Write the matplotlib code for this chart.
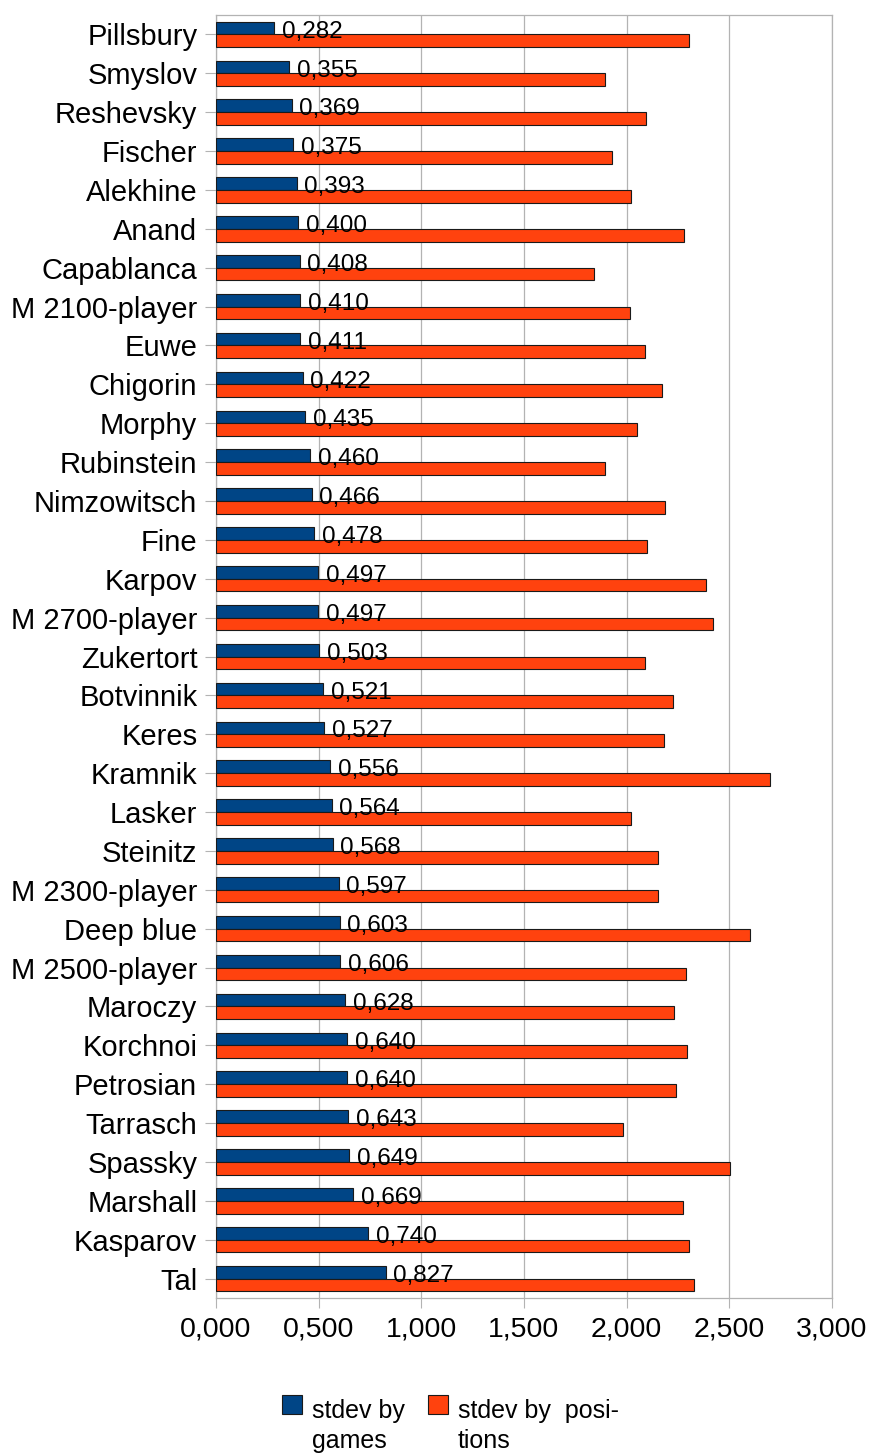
import matplotlib.pyplot as plt
import numpy as np
from matplotlib.patches import Rectangle

plt.rcParams['font.family'] = ['Liberation Sans', 'DejaVu Sans']

players = ['Pillsbury', 'Smyslov', 'Reshevsky', 'Fischer', 'Alekhine', 'Anand',
           'Capablanca', 'M 2100-player', 'Euwe', 'Chigorin', 'Morphy', 'Rubinstein',
           'Nimzowitsch', 'Fine', 'Karpov', 'M 2700-player', 'Zukertort', 'Botvinnik',
           'Keres', 'Kramnik', 'Lasker', 'Steinitz', 'M 2300-player', 'Deep blue',
           'M 2500-player', 'Maroczy', 'Korchnoi', 'Petrosian', 'Tarrasch', 'Spassky',
           'Marshall', 'Kasparov', 'Tal']

by_games = [0.282, 0.355, 0.369, 0.375, 0.393, 0.400, 0.408, 0.410, 0.411, 0.422,
            0.435, 0.460, 0.466, 0.478, 0.497, 0.497, 0.503, 0.521, 0.527, 0.556,
            0.564, 0.568, 0.597, 0.603, 0.606, 0.628, 0.640, 0.640, 0.643, 0.649,
            0.669, 0.740, 0.827]

by_positions = [2.304, 1.893, 2.096, 1.927, 2.021, 2.280, 1.843, 2.015, 2.088, 2.171,
                2.052, 1.893, 2.189, 2.101, 2.388, 2.422, 2.091, 2.228, 2.182, 2.697,
                2.020, 2.154, 2.153, 2.600, 2.291, 2.229, 2.296, 2.242, 1.982, 2.502,
                2.276, 2.302, 2.327]

xticks = [0, 0.5, 1.0, 1.5, 2.0, 2.5, 3.0]

blue = '#004586'
orange = '#ff420e'
grid = '#b3b3b3'

fig = plt.figure(figsize=(8.69, 14.55), dpi=100)
ax = fig.add_axes([216 / 869, 1 - 1298 / 1455, 616 / 869, 1283 / 1455])

y = np.arange(len(players))
h = 0.327
ax.barh(y - h / 2, by_games, height=h, color=blue, edgecolor='#1a1a1a', linewidth=0.8, zorder=3)
ax.barh(y + h / 2, by_positions, height=h, color=orange, edgecolor='#1a1a1a', linewidth=0.8, zorder=3)

for yi, v in zip(y, by_games):
    ax.annotate(f'{v:.3f}'.replace('.', ','), (v, yi - h / 2), xytext=(5.5, -6.9),
                textcoords='offset points', va='baseline', ha='left', fontsize=17.5, zorder=4)

ax.set_xlim(0, 3)
ax.set_ylim(len(players) - 0.5, -0.5)
ax.set_yticks(y)
ax.set_yticklabels(players, fontsize=21)
ax.set_xticks(xticks)
ax.set_xticklabels([f'{t:.3f}'.replace('.', ',') for t in xticks], fontsize=20.5)
ax.tick_params(axis='y', length=8, width=0.8, color=grid, pad=5.5)
ax.tick_params(axis='x', length=7, width=0.8, color=grid, pad=6.5)
ax.xaxis.grid(True, color=grid, linewidth=0.9, zorder=0)
ax.set_axisbelow(True)
for s in ax.spines.values():
    s.set_color(grid)
    s.set_linewidth(0.9)

# legend, drawn by hand so the swatch sits at the first text line
H = 1455
W = 869
def px(x, yy):
    return x / W, 1 - yy / H

for x0, col, lines in [(282, blue, ['stdev by', 'games']),
                       (428, orange, ['stdev by  posi-', 'tions'])]:
    fx, fy = px(x0, 1414)
    fig.patches.append(Rectangle((fx, fy), 20 / W, 19 / H, transform=fig.transFigure,
                                 facecolor=col, edgecolor='#1a1a1a', linewidth=0.8))
    for k, line in enumerate(lines):
        tx, ty = px(x0 + 30, 1418 + 30 * k)
        fig.text(tx, ty, line, fontsize=18, va='baseline', ha='left')

fig.savefig('out.png', dpi=100)
